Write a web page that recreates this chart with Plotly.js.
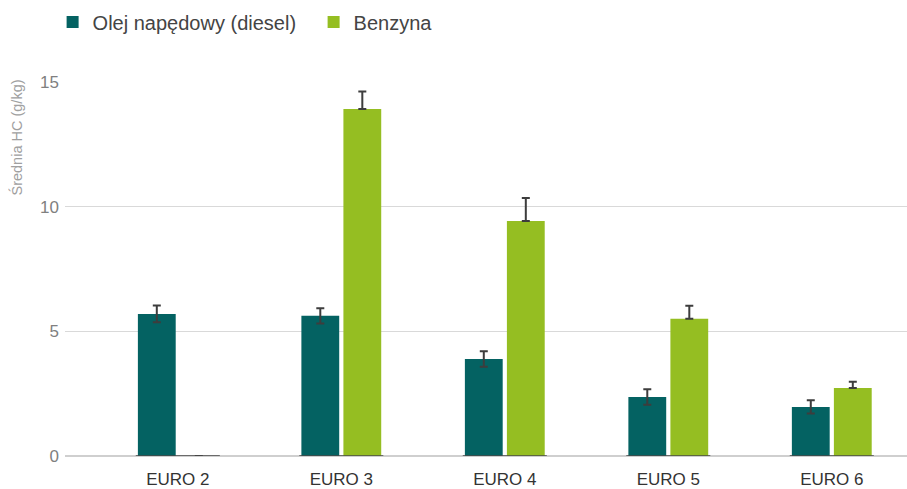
<!DOCTYPE html>
<html>
<head>
<meta charset="utf-8">
<script src="https://cdn.plot.ly/plotly-3.0.1.min.js"></script>
<style>
  html, body { margin: 0; padding: 0; background: #fff; }
  #chart { width: 907px; height: 489px; }
</style>
</head>
<body>
<div id="chart"></div>
<script>
// Average HC emissions by Euro standard and fuel type
const categories = ['EURO 2', 'EURO 3', 'EURO 4', 'EURO 5', 'EURO 6'];
const seriesNames = ['Olej napędowy (diesel)', 'Benzyna'];
const dieselValues = [5.70, 5.62, 3.89, 2.37, 1.97];
const dieselErrors = [0.34, 0.31, 0.31, 0.31, 0.27];
const petrolValues = [0, 13.92, 9.43, 5.50, 2.73];
const petrolErrors = [0, 0.70, 0.92, 0.53, 0.25];
const yTicks = [0, 5, 10, 15];
const yTitle = 'Średnia HC (g/kg)';

const FONT = '"Liberation Sans", Arial, sans-serif';
const errStyle = { color: '#3d3d3d', thickness: 2, width: 4 };

const traces = [
  {
    type: 'bar', name: seriesNames[0], x: categories, y: dieselValues,
    marker: { color: '#046262' },
    error_y: Object.assign({ type: 'data', array: dieselErrors, visible: true }, errStyle),
    hoverinfo: 'x+y'
  },
  {
    type: 'bar', name: seriesNames[1], x: categories, y: petrolValues,
    marker: { color: '#95be22' },
    error_y: Object.assign({ type: 'data', symmetric: false, array: petrolErrors,
      arrayminus: petrolErrors.map(() => 0), visible: true }, errStyle),
    hoverinfo: 'x+y'
  }
];

// dark baseline segment under each bar group
const baseShapes = categories.map((c, i) => ({
  type: 'line', xref: 'x', yref: 'y', layer: 'above',
  x0: i - 0.257, x1: i + 0.257, y0: 0, y1: 0,
  line: { color: '#4a4a4a', width: 1.5 }
}));

const layout = {
  width: 907, height: 489,
  margin: { l: 65, r: 0, t: 82, b: 33 },
  paper_bgcolor: '#fff', plot_bgcolor: '#fff',
  font: { family: FONT, color: '#333' },
  barmode: 'group', bargap: 0.486, bargroupgap: 0.1,
  showlegend: true,
  legend: {
    orientation: 'h', xref: 'container', yref: 'container',
    x: 0.058, y: 0.995, xanchor: 'left', yanchor: 'top',
    font: { size: 20, color: '#444', family: FONT },
    itemwidth: 30, entrywidth: 216, entrywidthmode: 'pixels', tracegroupgap: 0
  },
  xaxis: {
    type: 'category', range: [-0.69, 4.46],
    showgrid: false, zeroline: false, showline: false, ticks: '',
    tickfont: { size: 17, color: '#333', family: FONT },
    ticklabelstandoff: 11, fixedrange: true
  },
  yaxis: {
    range: [0, 15], tickvals: yTicks, ticktext: yTicks.map(String),
    showgrid: true, gridcolor: '#d9d9d9', gridwidth: 1.2,
    zeroline: true, zerolinecolor: '#cfcfcf', zerolinewidth: 1.5,
    showline: false, ticks: '',
    tickfont: { size: 17, color: '#808080', family: FONT },
    ticklabelstandoff: 5, fixedrange: true
  },
  shapes: baseShapes,
  annotations: [{
    text: yTitle, xref: 'paper', yref: 'paper', x: -0.057, y: 1.012,
    xanchor: 'center', yanchor: 'top', textangle: -90, showarrow: false,
    font: { size: 14.5, color: '#a0a0a0', family: FONT }
  }]
};

Plotly.newPlot('chart', traces, layout, { displayModeBar: false, staticPlot: true });
</script>
</body>
</html>
